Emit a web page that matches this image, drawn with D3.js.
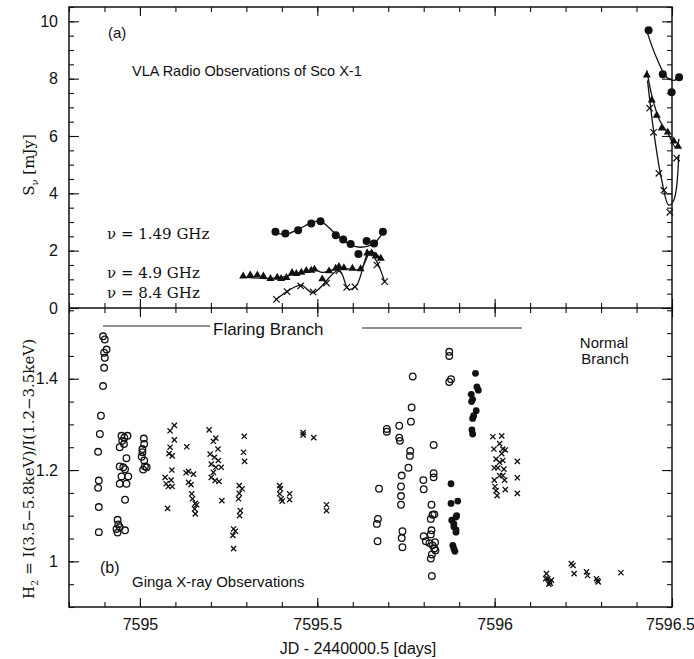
<!DOCTYPE html>
<html><head><meta charset="utf-8">
<script src="https://cdn.jsdelivr.net/npm/d3@7/dist/d3.min.js"></script>
<style>body{margin:0;background:#fff;} svg{display:block;}</style>
</head><body>
<svg id="chart" width="694" height="659"></svg>
<script>
// ---------- DATA ----------
const xMajorTicks = [7595, 7595.5, 7596, 7596.5];
const xMinorTicks = d3.range(7594.8, 7596.5001, 0.1).map(v => +v.toFixed(2));
const topMajorTicks = [0, 2, 4, 6, 8, 10];
const topMinorTicks = d3.range(0, 10.5001, 0.5);
const botMajorTicks = [1, 1.2, 1.4];
const botMinorTicks = d3.range(0.9, 1.5501, 0.05).map(v => +v.toFixed(2));

// Top panel: VLA radio flux densities (mJy)
const circDays = [7595.382,7595.410,7595.446,7595.483,7595.509,7595.552,7595.573,7595.594,7595.616,7595.639,7595.660,7595.685,
                  7596.434,7596.474,7596.499,7596.520];
const circVals = [2.66,2.60,2.71,2.95,3.03,2.54,2.39,2.23,1.88,2.34,2.25,2.66,
                  9.69,8.15,7.53,8.05];
const triDays = [7595.291,7595.311,7595.331,7595.348,7595.368,7595.387,7595.398,7595.413,7595.429,7595.441,7595.455,7595.469,7595.483,7595.492,7595.514,7595.533,7595.552,7595.561,7595.575,7595.599,7595.622,7595.641,7595.653,7595.665,7595.679,
                 7596.429,7596.443,7596.457,7596.471,7596.488,7596.505,7596.517];
const triVals = [1.11,1.15,1.15,1.11,1.02,1.07,1.02,1.06,1.23,1.20,1.24,1.30,1.31,1.35,1.01,1.29,1.38,1.44,1.40,1.38,1.36,1.91,1.91,1.81,1.73,
                 8.12,7.25,6.72,6.27,6.13,5.82,5.64];
const crossDays = [7595.385,7595.415,7595.453,7595.488,7595.526,7595.561,7595.583,7595.606,7595.646,7595.668,7595.690,
                   7596.437,7596.448,7596.463,7596.477,7596.494,7596.513];
const crossVals = [0.30,0.57,0.77,0.56,0.87,1.30,0.72,0.74,1.91,1.50,0.92,
                   6.97,6.13,4.70,4.11,3.34,5.23];

// Smooth fitted curves (each drawn as a separate segment)
const circFitL = {d:[7595.380,7595.410,7595.446,7595.483,7595.509,7595.552,7595.594,7595.622,7595.660,7595.688], v:[2.63,2.57,2.74,2.97,3.02,2.58,2.20,2.12,2.26,2.70]};
const circFitR = {d:[7596.431,7596.457,7596.485,7596.505,7596.526], v:[9.58,8.71,8.05,7.94,8.12]};
const triFitL  = {d:[7595.291,7595.363,7595.396,7595.453,7595.495,7595.514,7595.552,7595.575,7595.622,7595.651,7595.681], v:[1.08,1.03,1.07,1.23,1.32,1.24,1.36,1.38,1.36,1.96,1.70]};
const triFitR  = {d:[7596.429,7596.443,7596.465,7596.488,7596.511,7596.520], v:[8.29,7.42,6.55,6.10,5.60,5.90]};
const crossFitL= {d:[7595.382,7595.453,7595.488,7595.561,7595.588,7595.611,7595.646,7595.670,7595.690], v:[0.28,0.80,0.53,1.32,0.66,0.80,1.96,1.56,0.90]};
const crossFitR= {d:[7596.431,7596.448,7596.471,7596.491,7596.505,7596.519], v:[7.94,6.20,4.46,3.59,3.76,5.33]};

// Bottom panel: Ginga hardness ratio
const openDays = [7594.896,7594.901,7594.906,7594.899,7594.901,7594.899,7594.896,7594.890,7594.887,7594.882,7594.884,7594.882,7594.884,7594.884,
  7594.948,7594.956,7594.965,7594.950,7594.955,7594.943,7594.962,7594.943,7594.953,7594.958,7594.948,7594.967,7594.943,7594.962,7594.958,7594.937,7594.939,7594.934,7594.937,7594.958,7594.943,
  7595.011,7595.012,7595.007,7595.007,7595.005,7595.012,7595.014,7595.019,7595.009,
  7595.872,7595.872,7595.769,7595.877,7595.872,7595.766,7595.764,7595.696,7595.696,7595.731,7595.731,7595.733,7595.828,7595.762,7595.761,7595.757,7595.738,7595.828,7595.828,7595.799,
  7595.674,7595.736,7595.800,7595.736,7595.736,7595.822,7595.825,7595.820,7595.830,7595.671,7595.668,7595.670,7595.740,7595.738,7595.740,7595.822,7595.820,7595.800,7595.806,7595.816,
  7595.825,7595.832,7595.830,7595.823,7595.820,7595.823,7595.833];
const openVals = [1.493,1.486,1.464,1.457,1.446,1.424,1.384,1.319,1.279,1.240,1.177,1.161,1.119,1.064,
  1.275,1.271,1.275,1.264,1.257,1.250,1.226,1.208,1.206,1.202,1.186,1.186,1.170,1.170,1.135,1.091,1.081,1.071,1.063,1.068,1.075,
  1.269,1.257,1.246,1.239,1.229,1.221,1.208,1.206,1.201,
  1.459,1.450,1.405,1.399,1.393,1.337,1.306,1.290,1.284,1.297,1.271,1.264,1.255,1.242,1.231,1.205,1.188,1.193,1.184,1.178,
  1.159,1.164,1.158,1.143,1.124,1.124,1.102,1.093,1.103,1.093,1.082,1.044,1.066,1.051,1.031,1.068,1.059,1.055,1.044,1.040,
  1.035,1.042,1.028,1.015,1.006,0.968,1.024];
const filledDays = [7595.946,7595.950,7595.954,7595.934,7595.938,7595.935,7595.948,7595.941,7595.938,7595.936,7595.938,
  7595.877,7595.877,7595.896,7595.891,7595.879,7595.885,7595.891,7595.891,7595.882,7595.885,7595.888,7595.885,7595.893];
const filledVals = [1.412,1.382,1.375,1.366,1.355,1.350,1.330,1.319,1.313,1.288,1.279,
  1.170,1.127,1.132,1.097,1.090,1.076,1.069,1.064,1.035,1.028,1.022,1.082,1.100];
const xDays = [7595.097,7595.085,7595.097,7595.085,7595.082,7595.091,7595.090,7595.071,7595.088,7595.074,7595.080,7595.091,7595.078,
  7595.132,7595.137,7595.130,7595.151,7595.137,7595.144,7595.146,7595.148,7595.156,7595.160,7595.154,7595.156,
  7595.195,7595.214,7595.207,7595.220,7595.198,7595.210,7595.221,7595.201,7595.214,7595.229,7595.207,7595.201,7595.212,7595.223,7595.231,
  7595.294,7595.292,7595.295,7595.280,7595.288,7595.280,7595.278,7595.283,7595.281,7595.264,7595.269,7595.262,7595.264,
  7595.460,7595.460,7595.490,7595.394,7595.396,7595.394,7595.398,7595.401,7595.422,7595.422,7595.526,7595.526,
  7595.995,7596.020,7596.014,7595.998,7596.023,7596.030,7596.020,7596.004,7596.014,7596.023,7596.064,7595.999,7596.009,7596.026,7596.014,7596.023,7596.028,7595.999,7596.064,7596.001,7596.004,7596.030,7596.007,7596.064,
  7596.146,7596.150,7596.155,7596.160,7596.153,7596.144,7596.157,7596.216,7596.221,7596.224,7596.259,7596.262,7596.287,7596.292,7596.290,7596.356];
const xVals = [1.298,1.286,1.266,1.250,1.236,1.231,1.200,1.184,1.178,1.170,1.164,1.164,1.116,
  1.251,1.197,1.194,1.191,1.173,1.168,1.148,1.137,1.127,1.124,1.115,1.104,
  1.288,1.270,1.263,1.246,1.235,1.228,1.221,1.213,1.206,1.206,1.195,1.184,1.177,1.175,1.133,
  1.274,1.239,1.219,1.166,1.159,1.149,1.137,1.111,1.100,1.071,1.066,1.057,1.028,
  1.282,1.277,1.271,1.166,1.159,1.148,1.137,1.132,1.148,1.135,1.124,1.111,
  1.273,1.275,1.258,1.246,1.246,1.244,1.236,1.224,1.217,1.221,1.219,1.205,1.205,1.202,1.188,1.188,1.178,1.178,1.183,1.164,1.155,1.157,1.144,1.149,
  0.973,0.962,0.955,0.959,0.950,0.962,0.952,0.995,0.991,0.973,0.977,0.969,0.962,0.955,0.958,0.975];

// ---------- LAYOUT ----------
const svg = d3.select("#chart");
const L = 69, R = 672, T = 7, MID = 308, B = 607;
const x = d3.scaleLinear().domain([7594.8, 7596.5]).range([L, R]);
const yTop = d3.scaleLinear().domain([0, 10.5]).range([MID, T]);
const yBot = d3.scaleLinear().domain([0.9, 1.555]).range([B, MID]);
const SANS = "'Liberation Sans', Arial, Helvetica, sans-serif";
const SERIF = "'DejaVu Serif', 'Liberation Serif', serif";

function axesFor(y, top, bottom, majors, minors, labelMajors, fmt) {
  const g = svg.append("g");
  g.append("g").attr("transform", `translate(${L},0)`).call(d3.axisLeft(y).tickValues(minors).tickSize(-5).tickFormat(""));
  const lm = g.append("g").attr("transform", `translate(${L},0)`).call(d3.axisLeft(y).tickValues(majors).tickSize(-10).tickFormat(fmt));
  lm.selectAll("text").attr("font-family", SANS).attr("font-size", 16).attr("fill", "#111").attr("x", -11);
  g.append("g").attr("transform", `translate(${R},0)`).call(d3.axisRight(y).tickValues(minors).tickSize(-5).tickFormat(""));
  g.append("g").attr("transform", `translate(${R},0)`).call(d3.axisRight(y).tickValues(majors).tickSize(-10).tickFormat(""));
  g.append("g").attr("transform", `translate(0,${top})`).call(d3.axisTop(x).tickValues(xMinorTicks).tickSize(-5).tickFormat(""));
  g.append("g").attr("transform", `translate(0,${top})`).call(d3.axisTop(x).tickValues(xMajorTicks).tickSize(-9).tickFormat(""));
  g.append("g").attr("transform", `translate(0,${bottom})`).call(d3.axisBottom(x).tickValues(xMinorTicks).tickSize(-5).tickFormat(""));
  const bm = g.append("g").attr("transform", `translate(0,${bottom})`).call(d3.axisBottom(x).tickValues(xMajorTicks).tickSize(-9).tickFormat(labelMajors ? (d => d3.format("")(d)) : ""));
  bm.selectAll("text").attr("font-family", SANS).attr("font-size", 16).attr("fill", "#111").attr("y", 12)
    .attr("dx", d => d === 7596.5 ? -2 : 0);
  g.selectAll(".domain").remove();
  g.selectAll(".tick line").attr("stroke", "#111").attr("stroke-width", 1.1);
}
axesFor(yTop, T, MID, topMajorTicks, topMinorTicks, false, d3.format("d"));
axesFor(yBot, MID, B, botMajorTicks, botMinorTicks, true, d => d === 1 ? "1" : d3.format(".1f")(d));

// frames
svg.append("rect").attr("x", L).attr("y", T).attr("width", R - L).attr("height", B - T)
  .attr("fill", "none").attr("stroke", "#111").attr("stroke-width", 1.5);
svg.append("line").attr("x1", L).attr("x2", R).attr("y1", MID).attr("y2", MID).attr("stroke", "#111").attr("stroke-width", 1.5);

// ---------- TOP PANEL MARKS ----------
const line = d3.line().curve(d3.curveCatmullRom.alpha(0.5)).x(d => x(d[0])).y(d => yTop(d[1]));
[circFitL, circFitR, triFitL, triFitR, crossFitL, crossFitR].forEach(f => {
  svg.append("path").attr("d", line(d3.zip(f.d, f.v))).attr("fill", "none").attr("stroke", "#111").attr("stroke-width", 1.3);
});
svg.append("g").selectAll("circle").data(d3.zip(circDays, circVals)).join("circle")
  .attr("cx", d => x(d[0])).attr("cy", d => yTop(d[1])).attr("r", 4).attr("fill", "#111");
const tri = d3.symbol().type(d3.symbolTriangle).size(28);
svg.append("g").selectAll("path").data(d3.zip(triDays, triVals)).join("path")
  .attr("transform", d => `translate(${x(d[0])},${yTop(d[1])})`).attr("d", tri()).attr("fill", "#111");
function crossPath(s) { return `M${-s},${-s}L${s},${s}M${-s},${s}L${s},${-s}`; }
svg.append("g").selectAll("path").data(d3.zip(crossDays, crossVals)).join("path")
  .attr("transform", d => `translate(${x(d[0])},${yTop(d[1])})`).attr("d", crossPath(3.2))
  .attr("stroke", "#111").attr("stroke-width", 1.2).attr("fill", "none");

// ---------- BOTTOM PANEL MARKS ----------
svg.append("g").selectAll("circle").data(d3.zip(openDays, openVals)).join("circle")
  .attr("cx", d => x(d[0])).attr("cy", d => yBot(d[1])).attr("r", 3.3)
  .attr("fill", "none").attr("stroke", "#111").attr("stroke-width", 1.3);
svg.append("g").selectAll("circle").data(d3.zip(filledDays, filledVals)).join("circle")
  .attr("cx", d => x(d[0])).attr("cy", d => yBot(d[1])).attr("r", 3.4).attr("fill", "#111");
svg.append("g").selectAll("path").data(d3.zip(xDays, xVals)).join("path")
  .attr("transform", d => `translate(${x(d[0])},${yBot(d[1])})`).attr("d", crossPath(2.6))
  .attr("stroke", "#111").attr("stroke-width", 1.3).attr("fill", "none");

// ---------- TEXT ----------
function txt(s, px, py, opts = {}) {
  return svg.append("text").attr("x", px).attr("y", py).text(s)
    .attr("font-family", opts.font || SANS).attr("font-size", opts.size || 15)
    .attr("fill", "#111").attr("text-anchor", opts.anchor || "start");
}
txt("(a)", 108, 38, {size: 15});
txt("VLA Radio Observations of Sco X-1", 132, 76, {size: 14.5});
txt("ν = 1.49 GHz", 107, 239, {font: SERIF, size: 15});
txt("ν = 4.9 GHz", 107, 278, {font: SERIF, size: 15});
txt("ν = 8.4 GHz", 107, 298, {font: SERIF, size: 15});

txt("Flaring Branch", 213, 335, {size: 17});
svg.append("line").attr("x1", 103).attr("x2", 210).attr("y1", 326).attr("y2", 326).attr("stroke", "#222").attr("stroke-width", 1.2);
svg.append("line").attr("x1", 362).attr("x2", 522).attr("y1", 328).attr("y2", 328).attr("stroke", "#222").attr("stroke-width", 1.2);
txt("Normal", 604, 348, {size: 15, anchor: "middle"});
txt("Branch", 605, 364, {size: 15, anchor: "middle"});
txt("(b)", 100, 573, {size: 16});
txt("Ginga X-ray Observations", 132, 587, {size: 15});

txt("JD - 2440000.5 [days]", 358, 654, {size: 16, anchor: "middle"});

// Y titles
const yt1 = svg.append("text").attr("transform", "translate(34,165) rotate(-90)")
  .attr("font-family", SERIF).attr("font-size", 15).attr("fill", "#111").attr("text-anchor", "middle");
yt1.append("tspan").text("S");
yt1.append("tspan").text("ν").attr("font-size", 10).attr("dy", 4);
yt1.append("tspan").text(" [mJy]").attr("dy", -4);

const yt2 = svg.append("text").attr("transform", "translate(34,469) rotate(-90)")
  .attr("font-family", SERIF).attr("font-size", 15).attr("fill", "#111").attr("text-anchor", "middle");
yt2.append("tspan").text("H");
yt2.append("tspan").text("2").attr("font-size", 10).attr("dy", 4);
yt2.append("tspan").text(" = I(3.5−5.8keV)/I(1.2−3.5keV)").attr("dy", -4);
</script>
</body></html>
